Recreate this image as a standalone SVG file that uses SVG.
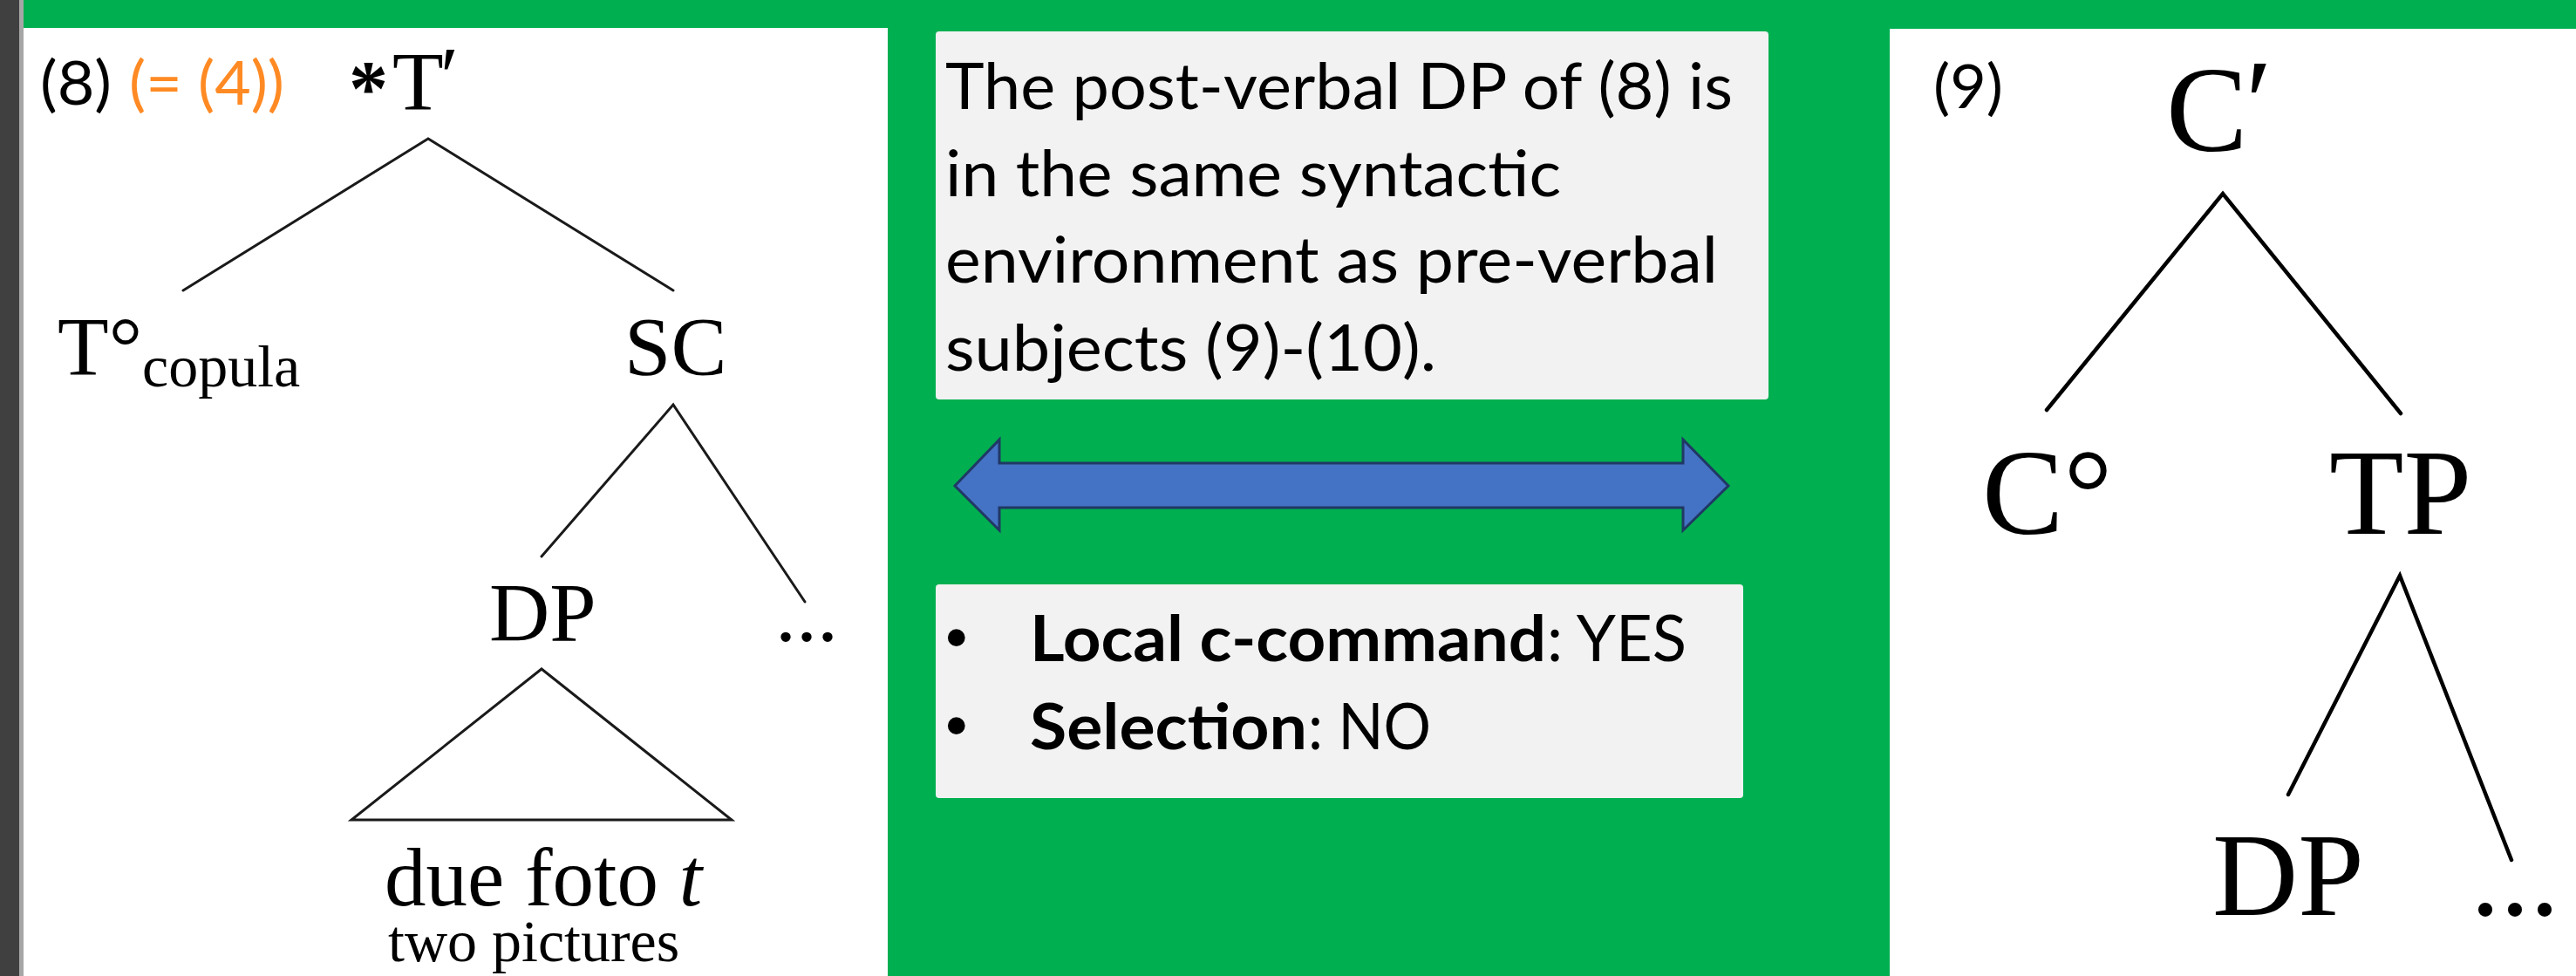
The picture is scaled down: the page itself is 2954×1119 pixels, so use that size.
<svg xmlns="http://www.w3.org/2000/svg" width="2954" height="1119" viewBox="0 0 2954 1119">
<style>
.serif{font-family:"Liberation Serif","Times New Roman",serif;fill:#000}
.sans{font-family:Lato,"Liberation Sans",sans-serif;fill:#000}
.box{fill:#F2F2F2}
.t1{stroke:#1a1a1a;stroke-width:3;fill:none;stroke-linecap:round}
.t2{stroke:#000;stroke-width:4.5;fill:none;stroke-linecap:round}
</style>
<g id="background">
<rect x="0" y="0" width="2954" height="1119" fill="#00AF50"/>
<rect x="0" y="0" width="22" height="1119" fill="#404040"/>
<rect x="22" y="0" width="5" height="1119" fill="#A6A6A6"/>
<rect x="27" y="32" width="991" height="1087" fill="#FFFFFF"/>
<rect x="2167" y="33" width="787" height="1086" fill="#FFFFFF"/>
</g>
<g id="connectors">
<path class="t1" d="M210,333 L491,159 L772,333"/>
<path class="t1" d="M621,638 L772,464 L923,690"/>
<path class="t1" d="M621,767 L403,940 L839,940 Z"/>
<path class="t2" d="M2347,470 L2549,222 L2753,474"/>
<path class="t2" d="M2624,911 L2752,660 L2880,986"/>
</g>
<g id="label-8">
<text class="sans" x="46" y="120" font-size="70" textLength="82" lengthAdjust="spacingAndGlyphs">(8)</text>
<text class="sans" x="148" y="120" font-size="70" fill="#FF8A24" style="fill:#FF8A24" textLength="178" lengthAdjust="spacingAndGlyphs">(= (4))</text>
</g>
<g id="node-Tbar">
<text class="serif" x="400" y="132" font-size="90" font-weight="bold">*</text>
<text class="serif" x="450" y="126" font-size="96">T</text>
<text class="serif" x="505" y="120" font-size="96">′</text>
</g>
<g id="node-Tcopula">
<text class="serif" x="66" y="430" font-size="96">T°</text>
<text class="serif" x="163" y="443" font-size="68">copula</text>
</g>
<g id="node-SC"><text class="serif" x="716" y="430" font-size="96">SC</text></g>
<g id="node-DP1"><text class="serif" x="561" y="735" font-size="96">DP</text></g>
<g id="node-dots1"><text class="serif" x="889" y="735" font-size="96">...</text></g>
<g id="node-duefoto">
<text class="serif" x="441" y="1038" font-size="95">due foto <tspan font-style="italic">t</tspan></text>
<text class="serif" x="445" y="1102" font-size="68">two pictures</text>
</g>
<g id="box-statement">
<rect class="box" x="1073" y="36" width="955" height="422" rx="4"/>
<text class="sans" x="1084" y="125" font-size="73" textLength="903" lengthAdjust="spacingAndGlyphs">The post-verbal DP of (8) is</text>
<text class="sans" x="1084" y="225" font-size="73" textLength="706" lengthAdjust="spacingAndGlyphs">in the same syntactic</text>
<text class="sans" x="1084" y="324" font-size="73" textLength="886" lengthAdjust="spacingAndGlyphs">environment as pre-verbal</text>
<text class="sans" x="1084" y="425" font-size="73" textLength="563" lengthAdjust="spacingAndGlyphs">subjects (9)-(10).</text>
</g>
<g id="double-arrow">
<polygon points="1095,557 1146,504 1146,531 1930,531 1930,504 1982,557 1930,608 1930,582 1146,582 1146,608" fill="#4472C4" stroke="#203864" stroke-width="3" stroke-linejoin="miter"/>
</g>
<g id="box-properties">
<rect class="box" x="1073" y="670" width="926" height="245" rx="4"/>
<text x="1084" y="755" font-size="73" style="font-family:'Liberation Sans',Arial,sans-serif">•</text>
<text class="sans" x="1181" y="758" font-size="73" font-weight="bold" textLength="592" lengthAdjust="spacingAndGlyphs">Local c-command</text>
<text class="sans" x="1774" y="758" font-size="73" textLength="160" lengthAdjust="spacingAndGlyphs">: YES</text>
<text x="1084" y="856" font-size="73" style="font-family:'Liberation Sans',Arial,sans-serif">•</text>
<text class="sans" x="1181" y="859" font-size="73" font-weight="bold" textLength="318" lengthAdjust="spacingAndGlyphs">Selection</text>
<text class="sans" x="1500" y="859" font-size="73" textLength="141" lengthAdjust="spacingAndGlyphs">: NO</text>
</g>
<g id="label-9"><text class="sans" x="2217" y="124" font-size="70" textLength="80" lengthAdjust="spacingAndGlyphs">(9)</text></g>
<g id="node-Cbar">
<text class="serif" x="2484" y="173" font-size="140">C</text>
<text class="serif" x="2575" y="165" font-size="140">′</text>
</g>
<g id="node-C0"><text class="serif" x="2273" y="612" font-size="140">C°</text></g>
<g id="node-TP"><text class="serif" x="2671" y="612" font-size="140">TP</text></g>
<g id="node-DP2"><text class="serif" x="2537" y="1049" font-size="136">DP</text></g>
<g id="node-dots2"><text class="serif" x="2833" y="1049" font-size="136">...</text></g>
</svg>
